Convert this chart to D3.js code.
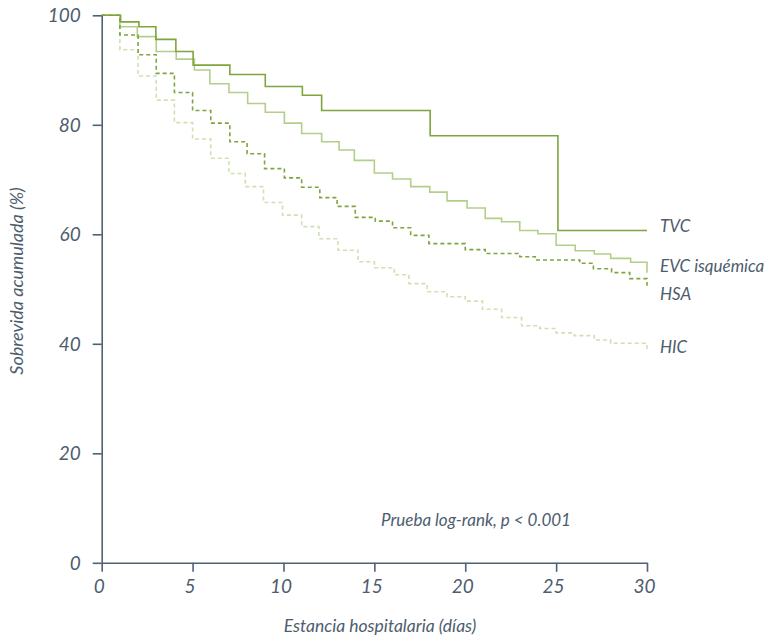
<!DOCTYPE html>
<html>
<head>
<meta charset="utf-8">
<script src="https://cdn.jsdelivr.net/npm/d3@7.9.0/dist/d3.min.js"></script>
<style>
  body { margin: 0; background: #fff; }
  svg text { font-family: Lato, "Open Sans", sans-serif; font-style: italic; font-weight: 400; fill: #4d5d6e; }
</style>
</head>
<body>
<svg id="chart" width="765" height="639"></svg>
<script>
// Kaplan-Meier curves (day, % survival)
const tvcDays = [0, 1.04, 2.05, 2.98, 4.08, 5.03, 7.05, 9.0, 11.04, 12.1, 18.07, 25.1, 30];
const tvcSurv = [100, 98.8, 97.9, 95.6, 93.4, 90.9, 89.2, 87.0, 85.4, 82.6, 78.0, 60.7, 60.7];

const evcDays = [0, 1.0, 1.96, 3.0, 4.1, 5.1, 5.95, 7.0, 8.03, 9.0, 10.05, 11.0, 12.1, 13.06, 13.9, 15.0,
  16.0, 17.0, 18.05, 19.0, 20.1, 21.1, 22.0, 23.0, 24.0, 25.0, 26.05, 27.1, 28.0, 29.1, 30];
const evcSurv = [100, 97.9, 96.1, 93.4, 92.0, 90.0, 87.5, 85.9, 83.9, 82.3, 80.3, 78.4, 76.9, 75.4, 73.5, 71.2,
  70.1, 68.7, 67.7, 66.1, 64.8, 62.9, 62.3, 60.7, 60.1, 58.0, 57.0, 56.4, 55.6, 54.9, 53.0];

const hsaDays = [0, 1.0, 2.0, 3.0, 4.0, 5.0, 6.0, 7.05, 8.0, 8.96, 10.05, 11.0, 12.0, 12.95, 13.95, 15.05,
  16.0, 17.0, 18.0, 20.0, 21.1, 23.0, 23.85, 26.3, 27.05, 28.05, 29.05, 30];
const hsaSurv = [100, 96.4, 92.8, 89.4, 85.9, 82.6, 80.3, 76.9, 74.7, 72.0, 70.3, 68.6, 66.7, 65.1, 63.1, 62.4,
  61.2, 59.8, 58.3, 57.2, 56.5, 55.9, 55.3, 54.7, 53.7, 53.0, 51.9, 50.6];

const hicDays = [0, 1, 2, 3, 4, 5, 6, 7, 7.9, 8.9, 9.95, 11.0, 11.95, 13.0, 14.1, 15.0, 16.1, 16.9, 17.9,
  19.0, 20.0, 20.95, 22.0, 23.1, 24.1, 25.0, 26.0, 27.1, 28.0, 30];
const hicSurv = [100, 93.7, 88.9, 84.5, 80.4, 77.4, 73.9, 71.1, 68.7, 65.8, 63.5, 61.4, 59.2, 57.1, 55.0, 53.9,
  52.6, 51.0, 49.5, 48.6, 47.8, 46.3, 44.8, 43.3, 42.8, 42.0, 41.5, 40.7, 40.1, 38.9];

const groupNames = ['TVC', 'EVC isquémica', 'HSA', 'HIC'];
const xTicks = [0, 5, 10, 15, 20, 25, 30];
const yTicks = [0, 20, 40, 60, 80, 100];
const noteText = 'Prueba log-rank, p < 0.001';

const groups = [
  { name: groupNames[0], days: tvcDays, surv: tvcSurv, color: '#7ea53f', dash: null },
  { name: groupNames[1], days: evcDays, surv: evcSurv, color: '#b2cf8a', dash: null },
  { name: groupNames[2], days: hsaDays, surv: hsaSurv, color: '#7ea53f', dash: '4,3' },
  { name: groupNames[3], days: hicDays, surv: hicSurv, color: '#cfe1b3', dash: '4,3' },
];

const svg = d3.select('#chart');
const axisColor = '#4f6174';

let x = d3.scaleLinear().domain([0, 30]).range([101.7, 647]);
let y = d3.scaleLinear().domain([0, 100]).range([562.8, 15.3]);

let line = d3.line()
  .x((d) => x(d[0]))
  .y((d) => y(d[1]))
  .curve(d3.curveStepAfter);

// draw lighter curves first
[3, 1, 2, 0].forEach((i) => {
  let g = groups[i];
  let pts = g.days.map((d, k) => [d, g.surv[k]]);
  svg.append('path')
    .attr('d', line(pts))
    .attr('fill', 'none')
    .attr('stroke', g.color)
    .attr('stroke-width', 1.6)
    .attr('stroke-dasharray', g.dash);
});

let xAxis = svg.append('g')
  .attr('transform', `translate(0,${y(0)})`)
  .call(d3.axisBottom(x).tickValues(xTicks).tickSize(9).tickSizeOuter(0));

let yAxis = svg.append('g')
  .attr('transform', `translate(${x(0)},0)`)
  .call(d3.axisLeft(y).tickValues(yTicks).tickSize(9).tickSizeOuter(0));

[xAxis, yAxis].forEach((a) => {
  a.selectAll('path, line').attr('stroke', axisColor).attr('stroke-width', 1.6);
  a.selectAll('text').attr('fill', '#4d5d6e').style('font-size', '19px').style('font-family', null);
});
xAxis.selectAll('text').attr('y', 17).attr('dx', -3);
yAxis.selectAll('text').attr('x', -21).attr('dy', '0.35em');

// curve labels at the right end
const labelY = [226, 266, 294, 347];
groups.forEach((g, i) => {
  svg.append('text')
    .attr('x', 660)
    .attr('y', labelY[i])
    .attr('dy', '0.35em')
    .style('font-size', '17px')
    .text(g.name);
});

svg.append('text')
  .attr('x', 476)
  .attr('y', 520)
  .attr('dy', '0.35em')
  .attr('text-anchor', 'middle')
  .style('font-size', '17px')
  .text(noteText);

svg.append('text')
  .attr('x', 380)
  .attr('y', 626)
  .attr('dy', '0.35em')
  .attr('text-anchor', 'middle')
  .style('font-size', '17.5px')
  .text('Estancia hospitalaria (días)');

svg.append('text')
  .attr('transform', 'translate(17,281) rotate(-90)')
  .attr('dy', '0.35em')
  .attr('text-anchor', 'middle')
  .style('font-size', '18px')
  .text('Sobrevida acumulada (%)');
</script>
</body>
</html>
